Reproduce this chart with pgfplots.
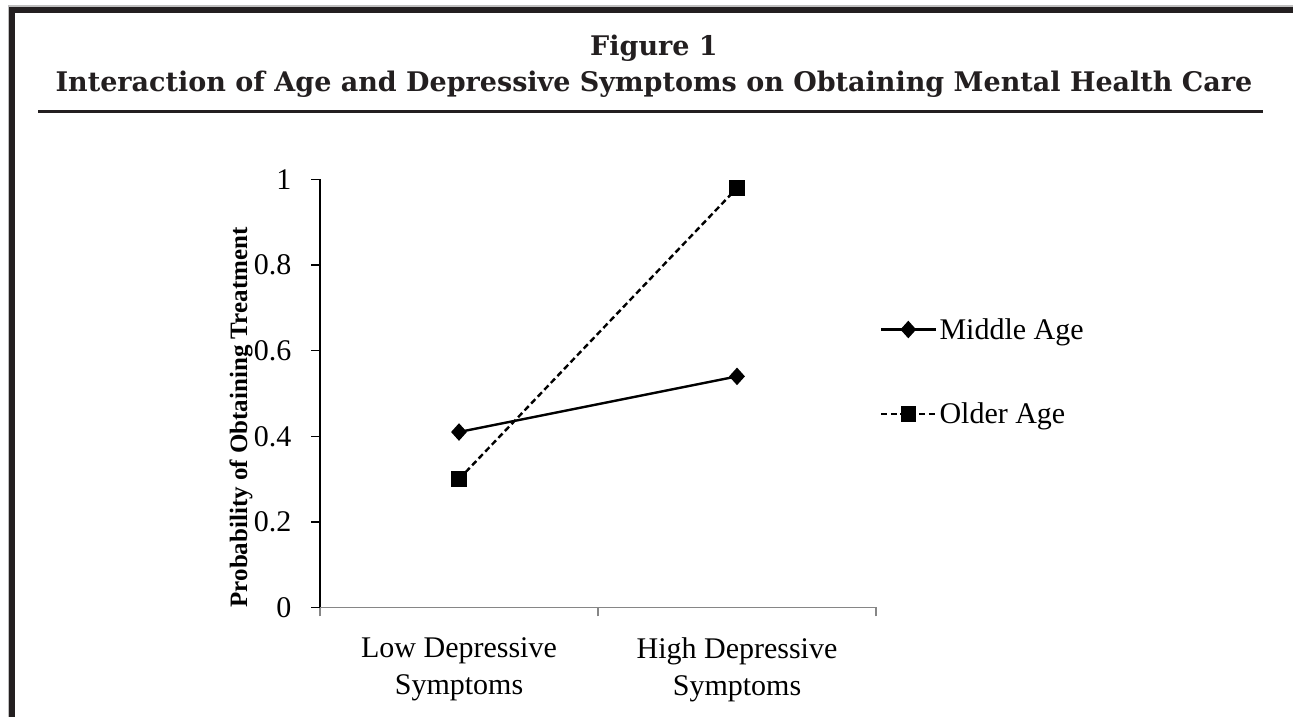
\documentclass[border=0pt]{standalone}
\usepackage{pgfplots}
\pgfplotsset{compat=1.18}
\usepackage{fontspec}
\setmainfont{Liberation Serif}
\newfontfamily\titlefont{DejaVu Serif}
\definecolor{border}{HTML}{231F20}
\definecolor{xaxis}{HTML}{868686}
\begin{document}
\begin{tikzpicture}
\useasboundingbox (0pt,0pt) rectangle (1293pt,717pt);
% frame
\fill[black!25] (7.5pt,0pt) rectangle (9pt,711.5pt);
\fill[black!25] (7.5pt,710pt) rectangle (1293pt,711.5pt);
\fill[border] (9pt,0pt) rectangle (15pt,710pt);
\fill[border] (9pt,704pt) rectangle (1293pt,710pt);
% title
\node[font=\titlefont\bfseries\fontsize{27}{30}\selectfont, text=border] at (654pt,669pt) {Figure 1};
\node[font=\titlefont\bfseries\fontsize{27}{30}\selectfont, text=border] at (654pt,633pt) {Interaction of Age and Depressive Symptoms on Obtaining Mental Health Care};
\draw[line width=3pt, border] (38pt,605pt) -- (1263pt,605pt);
\begin{axis}[
  at={(320pt,109.5pt)}, anchor=south west,
  scale only axis, width=556pt, height=428pt,
  xmin=0, xmax=2, ymin=0, ymax=1,
  axis x line=bottom, axis y line=left,
  axis line style={-},
  x axis line style={xaxis, line width=1.6pt},
  y axis line style={black, line width=1.4pt},
  tick align=outside,
  major tick length=9pt,
  x tick style={xaxis, line width=1.6pt},
  y tick style={black, line width=1.4pt},
  xtick={0,1,2},
  x tick label as interval,
  xticklabels={{Low Depressive\\Symptoms},{High Depressive\\Symptoms}},
  xticklabel style={align=center, font=\fontsize{30}{37}\selectfont, yshift=-18pt},
  ytick={0,0.2,0.4,0.6,0.8,1},
  yticklabel style={font=\fontsize{30}{33}\selectfont, xshift=-16pt},
  /pgf/number format/assume math mode=true,
  ylabel={\textbf{Probability of Obtaining Treatment}},
  ylabel style={font=\fontsize{25}{28}\selectfont, at={(rel axis cs:-0.142,0.444)}, anchor=center, rotate=0},
  legend style={draw=none, fill=none, at={(1.007,0.551)}, anchor=west,
    font=\fontsize{30}{34}\selectfont, row sep=58pt, inner sep=0pt,
    nodes={inner sep=2pt}},
  legend cell align=left,
  legend image code/.code={\draw[mark repeat=2,mark phase=2,#1] plot coordinates {(0pt,0pt) (27pt,0pt) (55pt,0pt)};},
  clip=false,
]
\addplot[black, line width=2.4pt, mark=diamond*, mark size=7pt, mark options={solid, xscale=1.2}] coordinates {(0.5,0.41) (1.5,0.54)};
\addlegendentry{Middle Age}
\addplot[black, line width=2.4pt, dash pattern=on 6pt off 3.5pt, mark=square*, mark size=6.5pt, mark options={solid}] coordinates {(0.5,0.30) (1.5,0.98)};
\addlegendentry{Older Age}
\end{axis}
\end{tikzpicture}
\end{document}
